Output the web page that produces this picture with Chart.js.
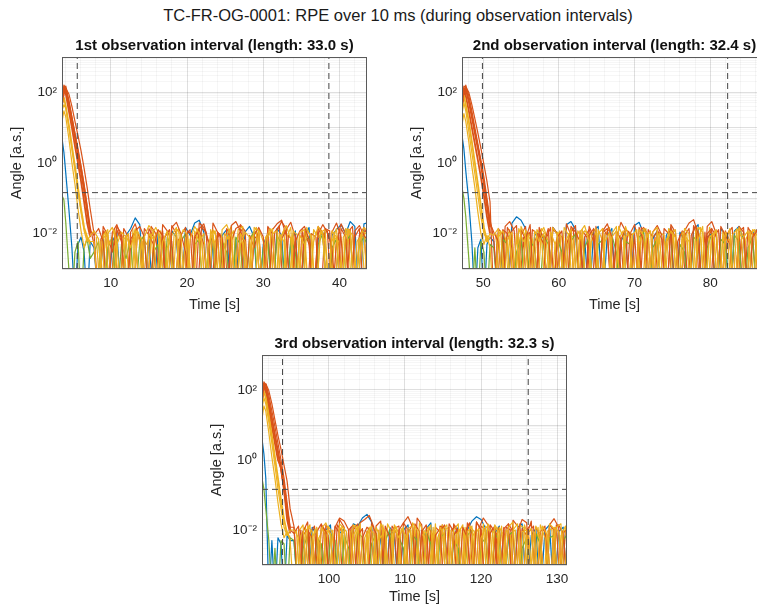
<!DOCTYPE html>
<html>
<head>
<meta charset="utf-8">
<title>TC-FR-OG-0001: RPE over 10 ms</title>
<script src="https://cdn.jsdelivr.net/npm/chart.js@4.4.0/dist/chart.umd.min.js"></script>
<style>
  html, body { margin: 0; padding: 0; background: #fff; }
  body { width: 757px; height: 605px; position: relative; overflow: hidden;
         font-family: "Liberation Sans", Arial, Helvetica, sans-serif; }
  #mainTitle { position: absolute; left: 0; top: 5px; width: 796px; text-align: center;
               font-size: 16.5px; line-height: 20px; color: #1a1a1a; }
  canvas { position: absolute; }
</style>
</head>
<body>
<div id="mainTitle">TC-FR-OG-0001: RPE over 10 ms (during observation intervals)</div>
<canvas id="obs1" width="380" height="289" style="left:0px;top:30px"></canvas>
<canvas id="obs2" width="380" height="289" style="left:400px;top:30px"></canvas>
<canvas id="obs3" width="380" height="287" style="left:200px;top:328px"></canvas>

<script>
// ---- sampling (s after the start of each interval) ----
const decayOffsets = [0, 0.25, 0.5, 0.9, 1.3, 1.7, 2.1, 2.5, 2.9, 3.3, 3.7];
const noiseStartA = 4.2;   // first set of noise traces
const noiseStartB = 4.5;   // second set, sampled half a step later
const noiseStep = 0.6;
const noiseUnit = 1e-3;    // noise arrays are written in milli-arcseconds

// ---- interval info ----
const titles = [
    '1st observation interval (length: 33.0 s)',
    '2nd observation interval (length: 32.4 s)',
    '3rd observation interval (length: 32.3 s)'
];
const intervalStart = [3.6, 47.2, 91.2];
const intervalEnd = [43.6, 87.5, 131.3];
const markerTimes = [[5.6, 38.6], [49.9, 82.3], [93.9, 126.2]];
const threshold = 0.145;
const xMajorTicks = [[10, 20, 30, 40], [50, 60, 70, 80], [100, 110, 120, 130]];
const xMinorStep = 2;
const yMin = 1e-3, yMax = 1e3;
const yLabelExp = [-2, 0, 2];
const yLabelText = ['10\u207B\u00B2', '10\u2070', '10\u00B2'];

// ---- interval 1 (arc-seconds) ----
const decay1Orange = [
    [60, 160, 130, 45, 15, 5, 1.6, 0.5, 0.15, 0.04, 0.012],
    [35, 120, 150, 60, 20, 7, 2.5, 0.8, 0.25, 0.06, 0.015],
    [40, 90, 130, 90, 40, 15, 6, 2.2, 0.7, 0.2, 0.05],
    [80, 140, 90, 30, 10, 3, 1, 0.3, 0.08, 0.02, 0.008],
    [45, 100, 110, 50, 18, 6, 2, 0.7, 0.2, 0.05, 0.01]
];
const decay1Yellow = [
    [30, 45, 35, 10, 2.5, 0.6, 0.15, 0.04, 0.012, 0.006, 0.009],
    [15, 30, 20, 5, 1, 0.25, 0.05, 0.012, 0.004, 0.008, 0.006],
    [50, 70, 40, 12, 3, 0.8, 0.2, 0.05, 0.015, 0.008, 0.005]
];
const decay1Blue = [[5, 2, 0.5, 0.05, 0.004, 0.0001, 0.005, 0.008, 0.003, 0.0001, 0.006]];
const decay1Green = [[0.12, 0.09, 0.02, 0.001, 0.0001, 0.003, 0.006, 0.0001, 0.004, 0.007, 0.002]];
const noise1Orange = [
    [9,14,6,0.1,11,18,7,0.1,5,12,16,8,0.1,4,13,9,0.1,15,21,10,3,0.1,8,14,19,6,0.1,11,7,0.1,17,22,12,5,0.1,9,15,8,0.1,13,19,24,9,0.1,6,12,16,7,0.1,10,18,11,4,0.1,14,8,0.1,12,17,9,6],
    [5,0.1,12,8,3,16,10,0.1,7,11,0.1,14,9,5,0.1,18,12,6,0.1,9,15,0.1,7,13,5,0.1,20,11,8,0.1,6,14,17,0.1,9,4,12,0.1,16,10,0.1,7,13,21,8,0.1,11,5,0.1,15,9,12,0.1,6,19,10,0.1,8,14,0.1,11,7],
    [10,0.1,16,9,0.1,13,6,0.1,11,19,7,0.1,14,8,0.1,12,0.1,17,10,0.1,9,13,0.1,20,15,6,0.1,11,0.1,14,8,0.1,18,12,0.1,7,10,0.1,15,0.1,12,22,14,0.1,9,0.1,13,7,0.1,16,10,0.1,11,20,8,0.1,13,0.1,9,15,0.1,12]
];
const noise1OrangeB = [[0.1,7,12,0.1,9,0.1,14,8,0.1,11,6,0.1,16,10,0.1,8,13,0.1,7,0.1,12,9,0.1,15,11,0.1,6,10,0.1,13,0.1,9,14,0.1,8,12,0.1,7,0.1,11,17,0.1,9,6,0.1,13,0.1,10,8,0.1,14,12,0.1,9,0.1,11,16,0.1,8,13,0.1]];
const noise1Yellow = [
    [12,7,0.1,10,15,6,0.1,9,4,13,0.1,8,17,11,0.1,6,12,0.1,14,9,0.1,7,16,10,0.1,5,11,0.1,13,18,8,0.1,10,6,0.1,15,12,0.1,8,14,0.1,9,17,7,0.1,11,13,0.1,6,16,9,0.1,12,8,0.1,14,10,0.1,7,15,11,5],
    [6,0.1,9,13,0.1,5,11,8,0.1,14,6,0.1,10,7,12,0.1,4,9,15,0.1,8,0.1,12,6,10,0.1,13,7,0.1,9,16,0.1,5,11,8,0.1,14,6,0.1,10,12,0.1,7,15,0.1,9,5,0.1,13,8,11,0.1,6,14,0.1,9,12,0.1,7,10,0.1,13]
];
const noise1YellowB = [
    [8,0.1,11,5,14,0.1,7,10,0.1,12,6,0.1,9,15,8,0.1,11,0.1,6,13,9,0.1,14,7,0.1,10,12,0.1,5,9,0.1,13,16,0.1,8,11,0.1,7,14,0.1,10,6,0.1,12,9,0.1,15,7,0.1,11,13,0.1,8,6,0.1,14,9,0.1,12,10,0.1,7],
    [0.1,6,9,0.1,4,11,7,0.1,13,0.1,8,5,10,0.1,12,6,0.1,9,14,0.1,7,0.1,11,8,0.1,13,5,0.1,10,7,12,0.1,6,0.1,9,15,0.1,8,11,0.1,5,13,0.1,10,0.1,7,12,9,0.1,14,6,0.1,11,0.1,8,13,0.1,6,10,0.1,9]
];
const noise1Blue = [[4,0.1,8,0.1,6,11,0.1,9,14,28,18,0.1,7,0.1,10,5,0.1,12,8,0.1,15,9,20,24,11,0.1,6,0.1,9,13,0.1,7,0.1,11,16,8,0.1,5,10,0.1,14,9,0.1,6,12,0.1,8,15,0.1,7,11,0.1,9,13,18,10,22,16,0.1,19,21,12]];
const noise1Green = [[3,6,0.1,4,8,0.1,5,2,7,0.1,6,9,0.1,3,5,0.1,8,4,0.1,6,10,0.1,5,7,0.1,4,9,0.1,6,3,0.1,8,5,0.1,7,11,0.1,4,6,0.1,9,5,0.1,7,3,0.1,6,8,0.1,5,10,0.1,4,7,0.1,6,9,0.1,5,8,4]];

// ---- interval 2 ----
const decay2Orange = [
    [50, 150, 140, 60, 22, 8, 3, 1, 0.3, 0.08, 0.02],
    [30, 110, 160, 80, 30, 10, 3.5, 1.2, 0.4, 0.1, 0.025],
    [35, 80, 140, 100, 45, 18, 7, 2.6, 0.9, 0.3, 0.08],
    [90, 130, 80, 30, 10, 3.5, 1.2, 0.4, 0.12, 0.03, 0.01],
    [40, 90, 120, 55, 20, 7, 2.5, 0.9, 0.25, 0.06, 0.015]
];
const decay2Yellow = [
    [25, 50, 30, 8, 2, 0.5, 0.12, 0.03, 0.01, 0.007, 0.01],
    [12, 25, 15, 4, 0.8, 0.2, 0.04, 0.01, 0.005, 0.009, 0.004],
    [60, 80, 45, 15, 4, 1, 0.25, 0.06, 0.015, 0.006, 0.008]
];
const decay2Blue = [[6, 2.5, 0.6, 0.08, 0.006, 0.0001, 0.004, 0.007, 0.0001, 0.005, 0.008]];
const decay2Green = [[0.2, 0.1, 0.03, 0.002, 0.0001, 0.004, 0.0001, 0.006, 0.003, 0.0001, 0.005]];
const noise2Orange = [
    [11,6,0.1,15,9,0.1,13,7,18,0.1,10,5,14,0.1,8,12,0.1,16,11,6,0.1,9,14,0.1,12,19,8,0.1,7,13,10,0.1,15,6,0.1,11,17,9,0.1,14,8,0.1,12,20,25,10,0.1,7,13,0.1,16,9,5,0.1,11,15,0.1,8,12,18,7,0.1],
    [7,0.1,13,10,4,0.1,9,16,0.1,6,12,8,0.1,15,10,0.1,5,11,17,0.1,8,13,6,0.1,14,9,0.1,12,7,0.1,10,18,5,0.1,13,8,11,0.1,6,15,0.1,9,12,0.1,17,7,0.1,10,14,8,0.1,12,6,0.1,16,11,0.1,9,13,5,10,0.1],
    [0.1,14,9,0.1,12,17,0.1,8,11,0.1,15,7,0.1,13,10,0.1,19,9,0.1,12,0.1,16,8,0.1,11,14,0.1,7,21,12,0.1,10,0.1,15,9,0.1,13,7,0.1,18,11,0.1,9,14,0.1,12,0.1,16,22,10,0.1,8,13,0.1,11,0.1,15,9,0.1,14,10,0.1]
];
const noise2OrangeB = [[9,0.1,16,22,12,0.1,8,0.1,13,10,0.1,7,15,0.1,11,0.1,9,14,0.1,12,8,0.1,16,0.1,10,13,0.1,7,0.1,12,9,0.1,15,11,0.1,8,0.1,14,10,0.1,6,12,0.1,9,17,0.1,11,0.1,8,13,0.1,10,15,0.1,7,0.1,12,9,0.1,14,11,0.1]];
const noise2Yellow = [
    [9,14,0.1,7,11,0.1,16,8,0.1,12,6,10,0.1,15,9,0.1,7,13,0.1,11,17,6,0.1,10,14,0.1,8,12,0.1,16,7,0.1,13,9,0.1,11,15,0.1,6,12,8,0.1,14,10,0.1,7,16,0.1,9,13,0.1,11,6,0.1,15,8,12,0.1,10,14,7,0.1],
    [0.1,8,12,5,0.1,10,0.1,13,7,0.1,9,15,6,0.1,11,8,0.1,14,0.1,7,12,9,0.1,13,6,0.1,10,16,0.1,8,11,0.1,5,14,9,0.1,12,0.1,7,10,13,0.1,9,6,0.1,15,11,0.1,8,12,0.1,6,14,0.1,10,7,0.1,13,9,11,0.1,8]
];
const noise2YellowB = [
    [7,12,0.1,9,0.1,14,6,10,0.1,13,8,0.1,11,5,0.1,15,9,0.1,12,7,0.1,10,14,0.1,6,11,0.1,16,8,0.1,9,13,0.1,7,12,0.1,10,0.1,14,9,0.1,11,6,0.1,13,15,0.1,8,10,0.1,12,7,0.1,14,9,0.1,11,13,0.1,6,10,8],
    [10,0.1,6,13,0.1,8,0.1,11,7,0.1,14,9,0.1,5,12,0.1,10,8,0.1,13,0.1,6,11,0.1,9,15,0.1,7,12,0.1,10,0.1,8,14,0.1,6,11,9,0.1,13,0.1,7,10,0.1,12,8,0.1,15,6,0.1,11,0.1,9,13,0.1,7,12,0.1,10,8,0.1,14]
];
const noise2Blue = [[6,0.1,12,0.1,20,30,24,14,0.1,9,11,7,0.1,15,10,0.1,18,22,13,0.1,8,0.1,12,16,0.1,9,14,0.1,6,11,0.1,17,21,10,0.1,7,12,0.1,9,15,0.1,11,6,0.1,13,18,0.1,8,10,0.1,14,9,0.1,12,16,7,0.1,10,13,0.1,11,9]];
const noise2Green = [[4,0.1,7,5,0.1,3,8,0.1,6,4,0.1,9,5,0.1,7,3,0.1,6,10,0.1,4,8,0.1,5,7,0.1,9,3,0.1,6,5,0.1,8,11,0.1,4,7,0.1,6,9,0.1,5,3,0.1,8,6,0.1,4,10,0.1,7,5,0.1,9,6,0.1,4,8,0.1,6,3,0.1]];

// ---- interval 3 ----
const decay3Orange = [
    [70, 170, 140, 50, 16, 5, 1.5, 0.5, 0.12, 0.03, 0.01],
    [40, 130, 150, 70, 25, 9, 3, 1, 0.3, 0.06, 0.012],
    [45, 100, 150, 95, 40, 14, 5, 2, 0.7, 0.25, 0.04],
    [100, 150, 90, 30, 9, 3, 1, 0.6, 0.15, 0.02, 0.008],
    [50, 110, 120, 45, 15, 5, 1.8, 0.6, 0.18, 0.04, 0.01]
];
const decay3Yellow = [
    [30, 60, 40, 12, 3, 0.7, 0.15, 0.04, 0.012, 0.007, 0.01],
    [15, 35, 25, 6, 1.2, 0.3, 0.06, 0.015, 0.006, 0.009, 0.005],
    [55, 90, 60, 18, 5, 1.2, 0.3, 0.07, 0.02, 0.008, 0.006]
];
const decay3Blue = [[4, 1.5, 0.3, 0.0001, 0.005, 0.0001, 0.006, 0.004, 0.0001, 0.007, 0.005]];
const decay3Green = [[0.3, 0.15, 0.04, 0.005, 0.0001, 0.003, 0.0001, 0.005, 0.004, 0.0001, 0.006]];
const noise3Orange = [
    [8,13,0.1,10,6,0.1,14,9,0.1,12,22,18,10,0.1,7,11,0.1,15,8,0.1,13,6,0.1,10,16,24,12,0.1,9,14,0.1,7,11,0.1,15,9,0.1,12,6,0.1,17,10,0.1,8,13,0.1,11,15,0.1,9,20,16,0.1,12,7,0.1,14,10,0.1,8,12,6],
    [12,0.1,7,11,0.1,9,15,6,0.1,13,8,0.1,10,14,0.1,6,12,9,0.1,16,7,0.1,11,13,0.1,8,15,0.1,10,6,0.1,12,9,14,0.1,7,11,0.1,16,8,0.1,13,10,0.1,6,12,0.1,15,9,0.1,11,7,18,0.1,9,13,0.1,10,14,8,0.1,9],
    [13,0.1,9,17,0.1,11,0.1,14,8,0.1,20,12,0.1,10,15,0.1,9,0.1,13,18,0.1,7,12,0.1,16,10,0.1,22,14,0.1,9,0.1,13,11,0.1,15,8,0.1,12,0.1,17,10,0.1,14,9,0.1,12,0.1,19,13,0.1,10,15,0.1,8,0.1,14,21,12,0.1,11]
];
const noise3OrangeB = [[0.1,10,0.1,8,13,0.1,11,7,0.1,14,9,0.1,12,0.1,16,20,26,12,0.1,10,0.1,13,8,0.1,11,0.1,15,9,0.1,12,7,0.1,14,0.1,10,13,0.1,9,16,0.1,11,22,14,0.1,8,0.1,12,10,0.1,15,0.1,9,13,0.1,11,7,0.1,14,0.1,10,12,0.1]];
const noise3Yellow = [
    [10,6,0.1,13,9,0.1,11,16,7,0.1,12,8,0.1,14,10,0.1,7,13,0.1,15,9,0.1,11,6,12,0.1,16,10,0.1,8,14,0.1,12,7,0.1,10,15,0.1,9,13,0.1,6,11,0.1,14,8,0.1,12,17,0.1,9,10,0.1,13,7,0.1,15,11,0.1,9,12,6],
    [0.1,9,14,0.1,6,12,0.1,10,8,0.1,15,11,0.1,7,13,0.1,9,0.1,12,6,10,0.1,14,8,0.1,11,13,0.1,7,9,0.1,15,0.1,10,12,0.1,8,14,0.1,6,11,0.1,13,9,0.1,12,7,0.1,10,15,0.1,8,11,0.1,14,6,0.1,12,9,0.1,10,7]
];
const noise3YellowB = [
    [11,0.1,8,14,0.1,6,12,0.1,10,0.1,13,9,0.1,7,15,0.1,11,8,0.1,14,0.1,9,12,0.1,6,10,0.1,16,8,0.1,12,0.1,10,14,0.1,7,11,0.1,13,9,0.1,15,0.1,8,12,0.1,10,6,0.1,14,11,0.1,9,0.1,13,7,0.1,12,15,0.1,8,10],
    [0.1,7,12,0.1,10,5,0.1,13,8,0.1,11,0.1,9,14,0.1,6,12,0.1,10,0.1,15,8,0.1,11,7,0.1,13,0.1,9,12,0.1,6,14,0.1,10,8,0.1,12,0.1,7,11,0.1,15,9,0.1,13,0.1,8,10,0.1,14,6,0.1,12,0.1,9,11,0.1,7,13,0.1,10]
];
const noise3Blue = [[5,0.1,9,0.1,12,7,0.1,10,14,0.1,8,11,0.1,15,13,22,28,17,0.1,9,0.1,12,7,0.1,10,14,0.1,8,0.1,11,16,0.1,9,13,0.1,7,12,0.1,10,18,24,20,11,0.1,8,13,0.1,9,0.1,12,15,0.1,7,11,0.1,10,14,0.1,9,12,0.1,8]];
const noise3Green = [[5,0.1,3,7,0.1,6,4,0.1,8,5,0.1,7,3,0.1,9,6,0.1,4,8,0.1,5,10,0.1,6,3,0.1,7,5,0.1,9,4,0.1,6,8,0.1,5,3,0.1,7,10,0.1,4,6,0.1,8,5,0.1,7,9,0.1,3,6,0.1,8,4,0.1,6,7,0.1,5,8,0.1]];

// ---- styling ----
const fontFamily = '"Liberation Sans", Arial, Helvetica, sans-serif';
Chart.defaults.font.family = fontFamily;
Chart.defaults.color = '#262626';

const lineColors = { blue: '#0072BD', orange: '#D95319', yellow: '#EDB120', green: '#77AC30' };
const gridMajor = 'rgba(38, 38, 38, 0.15)';
const gridMinor = 'rgba(38, 38, 38, 0.045)';

function isDecade(v) {
    const l = Math.log10(v);
    return Math.abs(l - Math.round(l)) < 1e-6;
}

// decay samples (if any) followed by the noise floor samples (if any)
function seriesPoints(start, decay, noise, nStart) {
    const pts = (decay || []).map((v, i) => ({ x: start + decayOffsets[i], y: v }));
    if (noise) {
        noise.forEach((v, i) => pts.push({ x: start + nStart + i * noiseStep, y: v * noiseUnit }));
    }
    return pts;
}

function lineDataset(data, color, width, order) {
    return {
        data: data,
        borderColor: color,
        borderWidth: width,
        borderJoinStyle: 'round',
        pointRadius: 0,
        tension: 0,
        fill: false,
        order: order
    };
}

// axes box + panel title
const panelFrame = {
    id: 'panelFrame',
    afterDatasetsDraw(chart, args, opts) {
        const a = chart.chartArea;
        const ctx = chart.ctx;
        ctx.save();
        ctx.strokeStyle = '#5a5a5a';
        ctx.lineWidth = 1;
        ctx.strokeRect(a.left + 0.5, a.top + 0.5, a.right - a.left - 1, a.bottom - a.top - 1);
        ctx.font = 'bold 15px ' + fontFamily;
        ctx.fillStyle = '#111';
        ctx.textAlign = 'center';
        ctx.textBaseline = 'middle';
        ctx.fillText(opts.text, (a.left + a.right) / 2, a.top - 11);
        ctx.restore();
    }
};

function makePanel(canvasId, k, groups, titlePadBottom) {
    const start = intervalStart[k];
    const datasets = [];

    groups.forEach(g => {
        const decay = g.decay || [];
        const rows = Math.max(decay.length, g.noise.length);
        for (let r = 0; r < rows; r++) {
            const noise = g.noise[r];
            const width = noise ? 1.2 : 1.8;
            datasets.push(lineDataset(seriesPoints(start, decay[r], noise, g.nStart), g.color, width, g.orders[r]));
        }
    });

    const refStyle = { borderColor: '#454545', borderWidth: 1, borderDash: [6, 4], pointRadius: 0, order: -1 };
    markerTimes[k].forEach(t => {
        datasets.push(Object.assign({}, refStyle, { data: [{ x: t, y: yMin }, { x: t, y: yMax }] }));
    });
    datasets.push(Object.assign({}, refStyle, {
        data: [{ x: intervalStart[k], y: threshold }, { x: intervalEnd[k], y: threshold }]
    }));

    return new Chart(document.getElementById(canvasId), {
        type: 'line',
        data: { datasets: datasets },
        plugins: [panelFrame],
        options: {
            responsive: false,
            animation: false,
            devicePixelRatio: 1,
            layout: { padding: { top: 27, right: 13, left: 0, bottom: 0 } },
            plugins: {
                legend: { display: false },
                tooltip: { enabled: false },
                panelFrame: { text: titles[k] }
            },
            scales: {
                x: {
                    type: 'linear',
                    min: intervalStart[k],
                    max: intervalEnd[k],
                    afterBuildTicks: s => {
                        const t = [];
                        for (let v = Math.ceil(s.min / xMinorStep) * xMinorStep; v <= s.max; v += xMinorStep) {
                            t.push({ value: v });
                        }
                        s.ticks = t;
                    },
                    afterFit: s => { s.height = 50; },
                    grid: {
                        drawTicks: false,
                        color: c => (c.tick && xMajorTicks[k].includes(c.tick.value)) ? gridMajor : gridMinor
                    },
                    border: { display: false },
                    ticks: {
                        autoSkip: false,
                        maxRotation: 0,
                        padding: 6,
                        font: { size: 13.5 },
                        callback: v => xMajorTicks[k].includes(v) ? String(v) : ''
                    },
                    title: {
                        display: true,
                        text: 'Time [s]',
                        font: { size: 14.5 },
                        padding: { top: 0, bottom: titlePadBottom }
                    }
                },
                y: {
                    type: 'logarithmic',
                    min: yMin,
                    max: yMax,
                    afterBuildTicks: s => {
                        const t = [];
                        for (let e = -3; e < 3; e++) {
                            for (let m = 1; m < 10; m++) t.push({ value: m * Math.pow(10, e) });
                        }
                        t.push({ value: yMax });
                        s.ticks = t;
                    },
                    afterFit: s => { s.width = 62; },
                    grid: {
                        drawTicks: false,
                        color: c => (c.tick && isDecade(c.tick.value)) ? gridMajor : gridMinor
                    },
                    border: { display: false },
                    ticks: {
                        autoSkip: false,
                        padding: 5,
                        font: { size: 13.5 },
                        callback: v => {
                            const idx = yLabelExp.indexOf(Math.round(Math.log10(v)));
                            return (isDecade(v) && idx >= 0) ? yLabelText[idx] : '';
                        }
                    },
                    title: {
                        display: true,
                        text: 'Angle [a.s.]',
                        font: { size: 14.5 },
                        padding: { top: 8, bottom: 0 }
                    }
                }
            }
        }
    });
}

// draw order: lower number is drawn on top
makePanel('obs1', 0, [
    { decay: decay1Yellow, noise: noise1Yellow, nStart: noiseStartA, color: lineColors.yellow, orders: [1, 4, 7] },
    { decay: decay1Orange, noise: noise1Orange, nStart: noiseStartA, color: lineColors.orange, orders: [2, 5, 8, 14, 15] },
    { decay: decay1Blue, noise: noise1Blue, nStart: noiseStartA, color: lineColors.blue, orders: [11] },
    { decay: decay1Green, noise: noise1Green, nStart: noiseStartA, color: lineColors.green, orders: [6] },
    { noise: noise1YellowB, nStart: noiseStartB, color: lineColors.yellow, orders: [3, 9] },
    { noise: noise1OrangeB, nStart: noiseStartB, color: lineColors.orange, orders: [10] }
], 5);

makePanel('obs2', 1, [
    { decay: decay2Yellow, noise: noise2Yellow, nStart: noiseStartA, color: lineColors.yellow, orders: [1, 4, 7] },
    { decay: decay2Orange, noise: noise2Orange, nStart: noiseStartA, color: lineColors.orange, orders: [2, 5, 8, 14, 15] },
    { decay: decay2Blue, noise: noise2Blue, nStart: noiseStartA, color: lineColors.blue, orders: [11] },
    { decay: decay2Green, noise: noise2Green, nStart: noiseStartA, color: lineColors.green, orders: [6] },
    { noise: noise2YellowB, nStart: noiseStartB, color: lineColors.yellow, orders: [3, 9] },
    { noise: noise2OrangeB, nStart: noiseStartB, color: lineColors.orange, orders: [10] }
], 5);

makePanel('obs3', 2, [
    { decay: decay3Yellow, noise: noise3Yellow, nStart: noiseStartA, color: lineColors.yellow, orders: [1, 4, 7] },
    { decay: decay3Orange, noise: noise3Orange, nStart: noiseStartA, color: lineColors.orange, orders: [2, 5, 8, 14, 15] },
    { decay: decay3Blue, noise: noise3Blue, nStart: noiseStartA, color: lineColors.blue, orders: [11] },
    { decay: decay3Green, noise: noise3Green, nStart: noiseStartA, color: lineColors.green, orders: [6] },
    { noise: noise3YellowB, nStart: noiseStartB, color: lineColors.yellow, orders: [3, 9] },
    { noise: noise3OrangeB, nStart: noiseStartB, color: lineColors.orange, orders: [10] }
], 9);
</script>
</body>
</html>
